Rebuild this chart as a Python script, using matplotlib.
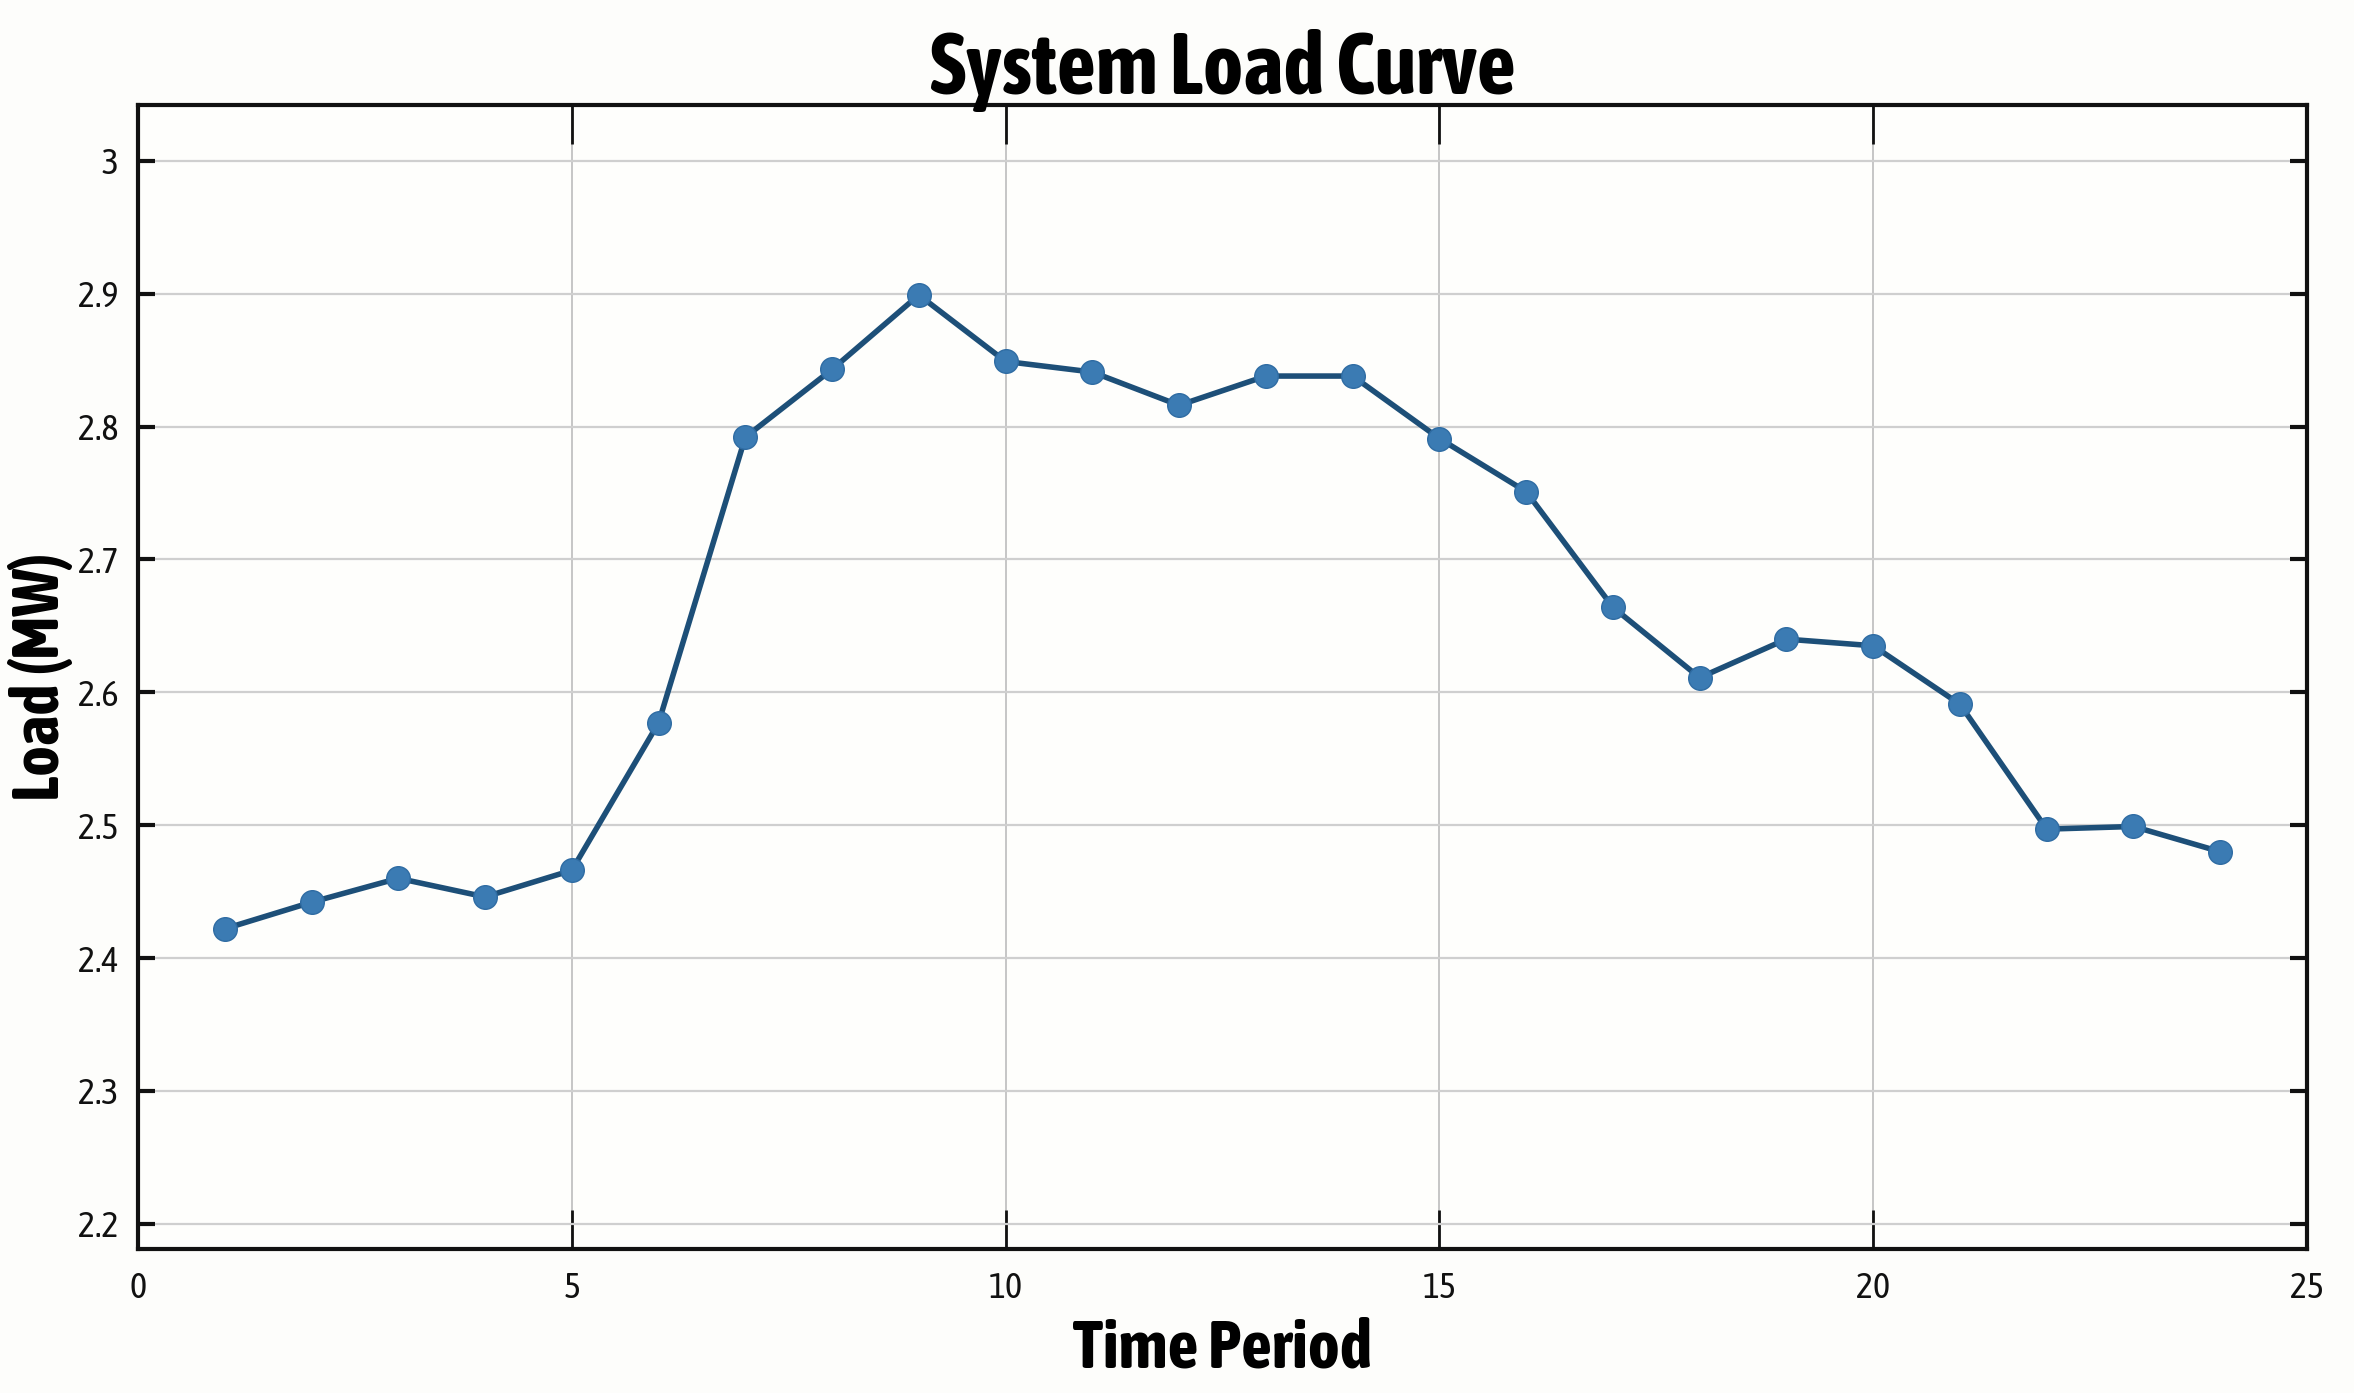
import matplotlib
matplotlib.use("Agg")
import matplotlib.pyplot as plt
from matplotlib import font_manager

# prefer a condensed face that also comes in bold
fonts = font_manager.fontManager.ttflist
def is_narrow(f):
    return 'Narrow' in f.name or 'Condensed' in f.name
def is_bold(f):
    w = f.weight
    return (w if isinstance(w, int) else {'bold': 700, 'heavy': 800, 'black': 900}.get(w, 400)) >= 600
bold_names = sorted({f.name for f in fonts if is_narrow(f) and is_bold(f)})
pref = [n for n in bold_names if 'Liberation' in n] + bold_names
narrow = pref[:1]
plt.rcParams['font.family'] = narrow + ['Liberation Sans', 'DejaVu Sans']

# data
period = [1, 2, 3, 4, 5, 6, 7, 8, 9, 10, 11, 12,
          13, 14, 15, 16, 17, 18, 19, 20, 21, 22, 23, 24]
load_mw = [2.422, 2.442, 2.460, 2.446, 2.466, 2.577, 2.792, 2.843,
           2.899, 2.849, 2.841, 2.816, 2.838, 2.838, 2.791, 2.751,
           2.664, 2.611, 2.640, 2.635, 2.591, 2.497, 2.499, 2.480]
x_ticks = [0, 5, 10, 15, 20, 25]
y_ticks = [2.2, 2.3, 2.4, 2.5, 2.6, 2.7, 2.8, 2.9, 3.0]
y_labels = ['2.2', '2.3', '2.4', '2.5', '2.6', '2.7', '2.8', '2.9', '3']

fig = plt.figure(figsize=(23.54, 13.93), dpi=100)
fig.patch.set_facecolor('#fdfdfb')
ax = fig.add_axes([138/2354, 1 - 1249/1393, (2307-138)/2354, (1249-105)/1393])
ax.set_facecolor('#fefefc')

ax.plot(period, load_mw, color='#1d4f78', lw=4, marker='o', ms=17,
        markerfacecolor='#3b7bb3', markeredgecolor='#2f6ca3', zorder=3)

ax.set_xlim(0, 25)
ax.set_ylim(2.181, 3.042)
ax.set_xticks(x_ticks)
ax.set_yticks(y_ticks)
ax.set_yticklabels(y_labels)

ax.grid(True, color='#cfcfcf', lw=1.6)
ax.grid(True, axis='x', color='#bdbdbd', lw=1.2)
ax.tick_params(axis='both', direction='in', top=True, right=True,
               labelsize=26, colors='#111111', pad=16)
ax.tick_params(axis='x', length=28, width=2)
ax.tick_params(axis='y', length=12, width=3, pad=14)
for s in ax.spines.values():
    s.set_linewidth(3)
    s.set_color('#111111')

ax.set_title('System Load Curve', fontsize=62 if narrow else 46,
             fontweight='bold', pad=8)
ax.set_xlabel('Time Period', fontsize=49 if narrow else 37,
              fontweight='bold', labelpad=8)
ax.set_ylabel('Load (MW)', fontsize=47 if narrow else 37,
              fontweight='bold')
ax.yaxis.set_label_coords(-0.030, 0.5)

fig.savefig('out.png', dpi=100, facecolor=fig.get_facecolor())
